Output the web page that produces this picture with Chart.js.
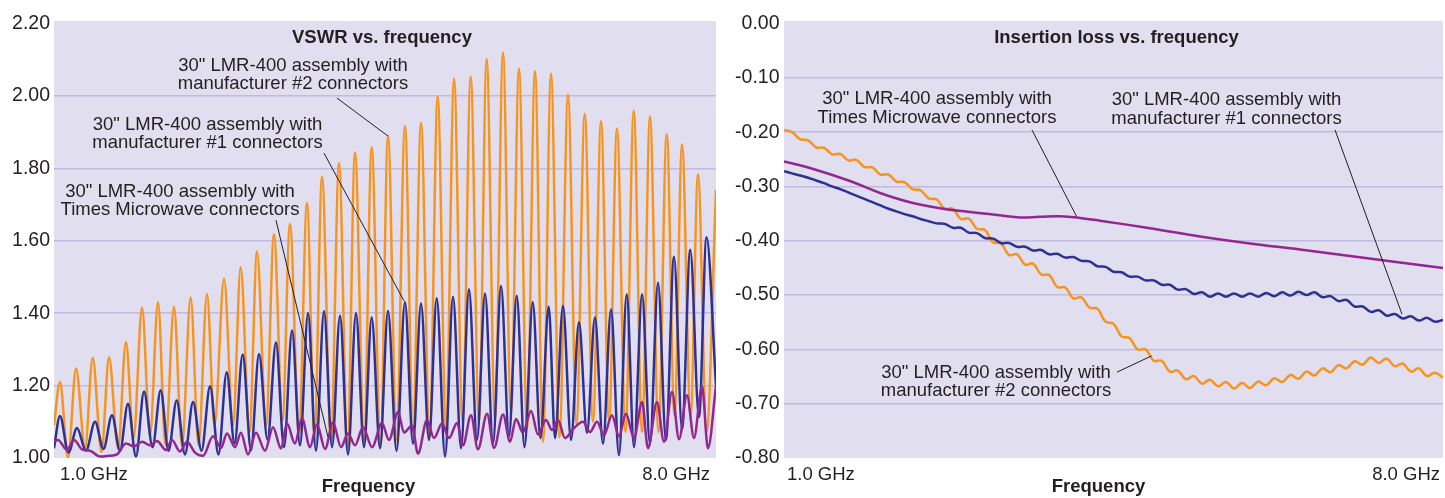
<!DOCTYPE html>
<html><head><meta charset="utf-8">
<script src="https://cdn.jsdelivr.net/npm/chart.js@4.4.1/dist/chart.umd.min.js"></script>
<style>
html,body{margin:0;padding:0;background:#fff;overflow:hidden}
#wrap{position:relative;width:1445px;height:498px}
#c1{position:absolute;left:0;top:0;width:722px;height:498px}
#c2{position:absolute;left:722px;top:0;width:723px;height:498px}
</style></head><body>
<div id="wrap"><canvas id="c1" width="722" height="498"></canvas><canvas id="c2" width="723" height="498"></canvas></div>
<script>
// ---------- DATA ----------
const seriesNames = ['Manufacturer #1 connectors', 'Manufacturer #2 connectors', 'Times Microwave connectors'];
const xTickLabels = ['1.0 GHz', '8.0 GHz'];
const vswrTicks = [1.00, 1.20, 1.40, 1.60, 1.80, 2.00, 2.20];
const lossTicks = [-0.80, -0.70, -0.60, -0.50, -0.40, -0.30, -0.20, -0.10, 0.00];

// VSWR, manufacturer #2 (orange)
const vswrFreqMfr2 = [1.000,1.063,1.148,1.233,1.328,1.409,1.502,1.582,1.677,1.761,1.841,1.931,2.015,2.100,2.179,2.269,2.353,2.445,2.528,2.618,2.697,2.798,2.893,2.974,3.067,3.147,3.242,3.326,3.416,3.495,3.591,3.675,3.755,3.834,3.929,4.014,4.103,4.183,4.278,4.359,4.452,4.532,4.622,4.711,4.796,4.881,4.971,5.057,5.145,5.230,5.320,5.406,5.494,5.575,5.663,5.748,5.832,5.917,6.002,6.086,6.171,6.255,6.345,6.435,6.525,6.612,6.699,6.784,6.869,6.953,7.043,7.130,7.218,7.302,7.392,7.479,7.561,7.641,7.731,7.810,7.900,8.000];
const vswrMfr2 = [1.09,1.21,1.00,1.247,1.027,1.277,1.017,1.278,1.027,1.32,1.055,1.415,1.063,1.43,1.036,1.418,1.033,1.443,1.036,1.453,1.09,1.495,1.09,1.527,1.072,1.57,1.09,1.617,1.104,1.646,1.07,1.704,1.063,1.777,1.05,1.814,1.03,1.844,1.045,1.858,1.027,1.89,1.05,1.917,1.073,1.926,1.055,1.999,1.08,2.047,1.10,2.053,1.10,2.102,1.104,2.119,1.127,2.075,1.08,2.068,1.045,2.061,1.058,2.003,1.095,1.951,1.10,1.931,1.104,1.91,1.072,1.959,1.072,1.944,1.072,1.895,1.118,1.866,1.118,1.783,1.072,1.74];

// VSWR, manufacturer #1 (navy)
const vswrFreqMfr1 = [1.000,1.063,1.153,1.243,1.338,1.434,1.523,1.613,1.698,1.782,1.867,1.952,2.042,2.128,2.211,2.297,2.385,2.470,2.560,2.650,2.739,2.826,2.909,2.995,3.083,3.168,3.258,3.347,3.432,3.517,3.601,3.686,3.770,3.855,3.940,4.024,4.109,4.193,4.278,4.359,4.447,4.532,4.622,4.711,4.796,4.881,4.965,5.047,5.135,5.219,5.304,5.388,5.473,5.558,5.642,5.727,5.811,5.893,5.975,6.062,6.144,6.231,6.298,6.382,6.467,6.551,6.636,6.720,6.805,6.890,6.974,7.056,7.133,7.218,7.302,7.387,7.471,7.556,7.641,7.728,7.820,7.900,8.000];
const vswrMfr1 = [1.027,1.116,1.015,1.083,1.02,1.10,1.025,1.118,1.02,1.15,1.004,1.184,1.03,1.187,1.02,1.159,1.01,1.155,1.02,1.198,1.01,1.237,1.04,1.286,1.022,1.287,1.05,1.319,1.03,1.352,1.035,1.40,1.02,1.405,1.03,1.393,1.01,1.40,1.03,1.388,1.027,1.406,1.02,1.43,1.04,1.427,1.05,1.441,1.004,1.445,1.027,1.466,1.05,1.454,1.04,1.475,1.06,1.448,1.03,1.43,1.055,1.418,1.055,1.42,1.05,1.375,1.07,1.388,1.04,1.41,1.008,1.452,1.03,1.452,1.04,1.484,1.05,1.556,1.08,1.575,1.113,1.61,1.20];

// VSWR, Times Microwave (purple)
const vswrFreqTimes = [1.000,1.042,1.137,1.211,1.296,1.381,1.486,1.582,1.666,1.761,1.846,1.931,2.015,2.089,2.184,2.248,2.332,2.406,2.491,2.576,2.681,2.766,2.829,2.914,2.977,3.051,3.136,3.231,3.316,3.400,3.464,3.548,3.622,3.707,3.781,3.866,3.950,4.035,4.109,4.183,4.267,4.363,4.468,4.542,4.638,4.701,4.786,4.849,4.944,5.018,5.103,5.177,5.262,5.325,5.409,5.483,5.579,5.653,5.748,5.822,5.885,5.959,6.044,6.118,6.202,6.266,6.329,6.403,6.488,6.594,6.668,6.742,6.816,6.900,6.974,7.048,7.133,7.218,7.281,7.376,7.450,7.535,7.609,7.693,7.767,7.852,7.915,8.000];
const vswrTimes = [1.045,1.05,1.022,1.05,1.024,1.02,1.004,1.006,1.01,1.04,1.032,1.045,1.035,1.047,1.022,1.05,1.018,1.045,1.015,1.006,1.06,1.028,1.068,1.03,1.07,1.01,1.07,1.02,1.085,1.026,1.095,1.04,1.11,1.03,1.093,1.025,1.098,1.03,1.068,1.035,1.085,1.03,1.097,1.05,1.127,1.07,1.09,1.012,1.105,1.055,1.095,1.055,1.097,1.035,1.118,1.024,1.122,1.028,1.12,1.045,1.108,1.07,1.13,1.065,1.105,1.077,1.105,1.055,1.08,1.10,1.072,1.10,1.063,1.118,1.06,1.122,1.055,1.155,1.027,1.155,1.045,1.182,1.052,1.173,1.055,1.198,1.027,1.20];

// Insertion loss (dB)
const lossFreq = [1.000,1.085,1.171,1.256,1.341,1.427,1.512,1.598,1.683,1.768,1.854,1.939,2.024,2.110,2.195,2.280,2.366,2.451,2.537,2.622,2.707,2.793,2.878,2.963,3.049,3.134,3.220,3.305,3.390,3.476,3.561,3.646,3.732,3.817,3.902,3.988,4.073,4.159,4.244,4.329,4.415,4.500,4.585,4.671,4.756,4.841,4.927,5.012,5.098,5.183,5.268,5.354,5.439,5.524,5.610,5.695,5.780,5.866,5.951,6.037,6.122,6.207,6.293,6.378,6.463,6.549,6.634,6.720,6.805,6.890,6.976,7.061,7.146,7.232,7.317,7.402,7.488,7.573,7.659,7.744,7.829,7.915,8.000];
const lossMfr2 = [-0.196,-0.200,-0.213,-0.215,-0.228,-0.229,-0.241,-0.240,-0.252,-0.251,-0.264,-0.265,-0.278,-0.278,-0.291,-0.292,-0.305,-0.307,-0.322,-0.324,-0.341,-0.341,-0.360,-0.359,-0.378,-0.380,-0.403,-0.405,-0.426,-0.425,-0.444,-0.442,-0.462,-0.463,-0.485,-0.486,-0.506,-0.504,-0.523,-0.525,-0.549,-0.553,-0.576,-0.579,-0.600,-0.600,-0.621,-0.621,-0.641,-0.639,-0.655,-0.649,-0.663,-0.656,-0.668,-0.660,-0.672,-0.662,-0.671,-0.659,-0.666,-0.653,-0.660,-0.647,-0.654,-0.641,-0.648,-0.635,-0.642,-0.629,-0.635,-0.622,-0.628,-0.615,-0.625,-0.617,-0.631,-0.626,-0.641,-0.635,-0.649,-0.643,-0.652];
const lossMfr1 = [-0.272,-0.276,-0.280,-0.284,-0.289,-0.294,-0.300,-0.305,-0.311,-0.317,-0.323,-0.329,-0.335,-0.341,-0.346,-0.351,-0.355,-0.360,-0.364,-0.368,-0.369,-0.376,-0.376,-0.385,-0.386,-0.395,-0.396,-0.404,-0.404,-0.411,-0.411,-0.418,-0.417,-0.425,-0.424,-0.431,-0.430,-0.437,-0.438,-0.447,-0.448,-0.457,-0.458,-0.466,-0.466,-0.473,-0.473,-0.481,-0.481,-0.490,-0.489,-0.498,-0.495,-0.503,-0.497,-0.503,-0.497,-0.503,-0.497,-0.503,-0.496,-0.502,-0.495,-0.501,-0.494,-0.500,-0.495,-0.504,-0.502,-0.511,-0.509,-0.521,-0.521,-0.531,-0.528,-0.538,-0.535,-0.543,-0.539,-0.547,-0.542,-0.549,-0.546];
const lossFreqTimes = [1.000,1.276,1.701,2.020,2.338,2.657,2.976,3.294,3.506,3.719,3.932,4.144,4.356,4.888,5.419,5.950,6.481,7.012,7.543,8.000];
const lossTimes = [-0.254,-0.266,-0.290,-0.312,-0.329,-0.340,-0.347,-0.353,-0.357,-0.356,-0.355,-0.358,-0.363,-0.377,-0.392,-0.405,-0.416,-0.428,-0.440,-0.450];

// ---------- STYLE ----------
const FONT = '"Liberation Sans", Arial, Helvetica, sans-serif';
const TEXT = '#231f20';
const ORANGE = '#f7941d', NAVY = '#2e3192', PURPLE = '#92278f';
const PLOT_BG = '#e0deef', GRID = '#bfbadf';

const pts = (xs, ys) => xs.map((x, i) => ({x, y: ys[i]}));

const decorPlugin = {
  id: 'decor',
  beforeDraw(chart, _a, o) {
    const {ctx, chartArea: a} = chart;
    ctx.save();
    ctx.fillStyle = PLOT_BG;
    ctx.fillRect(a.left, a.top - o.bgTopExtra, a.right - a.left, a.bottom - a.top + o.bgTopExtra);
    ctx.restore();
  },
  afterDatasetsDraw(chart, _a, o) {
    const {ctx, chartArea: a, scales} = chart;
    const X = v => scales.x.getPixelForValue(v), Y = v => scales.y.getPixelForValue(v);
    ctx.save();
    ctx.fillStyle = TEXT; ctx.strokeStyle = TEXT;
    ctx.textBaseline = 'middle'; ctx.textAlign = 'center';
    ctx.font = `bold ${o.fontSize}px ${FONT}`;
    ctx.fillText(o.title, X(o.titleAt[0]), Y(o.titleAt[1]));
    ctx.font = `${o.fontSize}px ${FONT}`;
    o.notes.forEach(n => {
      n.lines.forEach((t, i) => ctx.fillText(t, X(n.at[0]), Y(n.at[1]) + i * o.lineHeight));
      ctx.lineWidth = 1;
      ctx.beginPath();
      ctx.moveTo(X(n.from[0]), Y(n.from[1]));
      ctx.lineTo(X(n.to[0]), Y(n.to[1]));
      ctx.stroke();
    });
    ctx.textAlign = 'left';
    ctx.fillText(xTickLabels[0], X(1) + o.xLabelInset[0], o.xLabelY);
    ctx.textAlign = 'right';
    ctx.fillText(xTickLabels[1], X(8) - o.xLabelInset[1], o.xLabelY);
    ctx.textAlign = 'center';
    ctx.font = `bold ${o.fontSize}px ${FONT}`;
    ctx.fillText(o.axisTitle, o.axisTitleX, o.axisTitleY);
    ctx.restore();
  }
};

function yScale(ticks, width, pad) {
  const lo = ticks[0], hi = ticks[ticks.length - 1];
  return {
    min: lo, max: hi,
    afterFit: s => { s.width = width; },
    afterBuildTicks: s => { s.ticks = ticks.map(v => ({value: v})); },
    ticks: {callback: v => Number(v).toFixed(2), font: {family: FONT, size: 19.5}, color: TEXT, padding: pad},
    grid: {
      color: c => (c.tick && (Math.abs(c.tick.value - lo) < 1e-9 || Math.abs(c.tick.value - hi) < 1e-9)) ? 'rgba(0,0,0,0)' : GRID,
      lineWidth: 1.5, drawTicks: false
    },
    border: {display: false}
  };
}

function baseOptions(padRight, yopts, decor, lineOpts) {
  return {
    responsive: false, animation: false, devicePixelRatio: 1,
    layout: {padding: {left: 0, right: padRight, top: 23.5, bottom: 40}},
    elements: {point: {radius: 0}, line: Object.assign({borderWidth: 2.5}, lineOpts)},
    plugins: {legend: {display: false}, tooltip: {enabled: false}, decor},
    scales: {x: {type: 'linear', min: 1, max: 8, display: false}, y: yopts}
  };
}

new Chart(document.getElementById('c1'), {
  type: 'line',
  data: {datasets: [
    {label: seriesNames[2], data: pts(vswrFreqTimes, vswrTimes), borderColor: PURPLE, order: 0},
    {label: seriesNames[0], data: pts(vswrFreqMfr1, vswrMfr1), borderColor: NAVY, order: 1},
    {label: seriesNames[1], data: pts(vswrFreqMfr2, vswrMfr2), borderColor: ORANGE, order: 2}
  ]},
  options: baseOptions(6, yScale(vswrTicks, 54, 4), {
    bgTopExtra: 2.5, fontSize: 18.5, lineHeight: 18.5,
    title: 'VSWR vs. frequency', titleAt: [4.468, 2.160],
    xLabelInset: [6, 6], xLabelY: 475, axisTitle: 'Frequency', axisTitleX: 368.5, axisTitleY: 487,
    notes: [
      {lines: ['30" LMR-400 assembly with', 'manufacturer #2 connectors'], at: [3.527, 2.083], from: [3.992, 1.994], to: [4.532, 1.889]},
      {lines: ['30" LMR-400 assembly with', 'manufacturer #1 connectors'], at: [2.623, 1.920], from: [3.855, 1.842], to: [4.701, 1.434]},
      {lines: ['30" LMR-400 assembly with', 'Times Microwave connectors'], at: [2.332, 1.735], from: [3.347, 1.657], to: [3.897, 1.058]}
    ]
  }, {cubicInterpolationMode: 'monotone'}),
  plugins: [decorPlugin]
});

new Chart(document.getElementById('c2'), {
  type: 'line',
  data: {datasets: [
    {label: seriesNames[2], data: pts(lossFreqTimes, lossTimes), borderColor: PURPLE, order: 0},
    {label: seriesNames[0], data: pts(lossFreq, lossMfr1), borderColor: NAVY, order: 1},
    {label: seriesNames[1], data: pts(lossFreq, lossMfr2), borderColor: ORANGE, order: 2}
  ]},
  options: baseOptions(2, yScale(lossTicks, 62, 4.5), {
    bgTopExtra: 2.5, fontSize: 18.5, lineHeight: 18.5,
    title: 'Insertion loss vs. frequency', titleAt: [4.532, -0.0267],
    xLabelInset: [3, 3], xLabelY: 475, axisTitle: 'Frequency', axisTitleX: 376.5, axisTitleY: 487,
    notes: [
      {lines: ['30" LMR-400 assembly with', 'Times Microwave connectors'], at: [2.625, -0.1395], from: [3.634, -0.196], to: [4.107, -0.355]},
      {lines: ['30" LMR-400 assembly with', 'manufacturer #1 connectors'], at: [5.700, -0.1408], from: [6.853, -0.196], to: [7.564, -0.535]},
      {lines: ['30" LMR-400 assembly with', 'manufacturer #2 connectors'], at: [3.252, -0.643], from: [4.537, -0.642], to: [4.904, -0.612]}
    ]
  }, {tension: 0.4}),
  plugins: [decorPlugin]
});
</script>
</body></html>
